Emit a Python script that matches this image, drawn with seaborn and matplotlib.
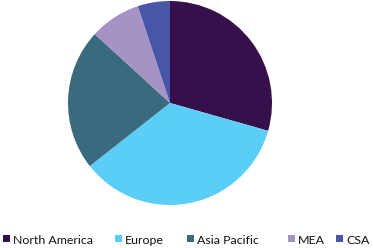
import matplotlib
matplotlib.use("Agg")
import matplotlib.pyplot as plt
import seaborn as sns
from matplotlib.patches import Rectangle

regions = ["North America", "Europe", "Asia Pacific", "MEA", "CSA"]
shares = [29.4, 35.0, 22.4, 8.1, 5.1]
colors = ["#36104A", "#5BCEF8", "#396A7D", "#A693C6", "#4756A6"]

sns.set_theme(style="white")
plt.rcParams['font.family'] = ['Lato', 'DejaVu Sans']

W, H = 373, 248
fig = plt.figure(figsize=(W / 100, H / 100), dpi=100)
fig.patch.set_facecolor("white")

cx, cy, r = 170, 103, 102
ax = fig.add_axes([(cx - r) / W, (H - cy - r) / H, 2 * r / W, 2 * r / H])
ax.pie(shares, colors=colors, startangle=90, counterclock=False, radius=1,
       wedgeprops=dict(linewidth=0))
ax.set_xlim(-1, 1)
ax.set_ylim(-1, 1)
ax.set_aspect("equal")
ax.axis("off")

# legend, laid out in pixel positions
sq_x = [3, 115, 187, 288, 336]
sq_size = 7
sq_top = 235
baseline = 243.5
renderer = fig.canvas.get_renderer()
probe = fig.text(0, 0, regions[0], fontsize=10)
w10 = probe.get_window_extent(renderer).width
probe.remove()
fs = 10 * 80.5 / w10
for x, lab, col in zip(sq_x, regions, colors):
    fig.patches.append(Rectangle((x / W, (H - sq_top - sq_size) / H), sq_size / W, sq_size / H,
                                 transform=fig.transFigure, facecolor=col, edgecolor="none"))
    fig.text((x + sq_size + 3) / W, (H - baseline) / H, lab, fontsize=fs,
             va="baseline", ha="left", color="#111111")

fig.savefig("out.png", dpi=100, facecolor="white")
